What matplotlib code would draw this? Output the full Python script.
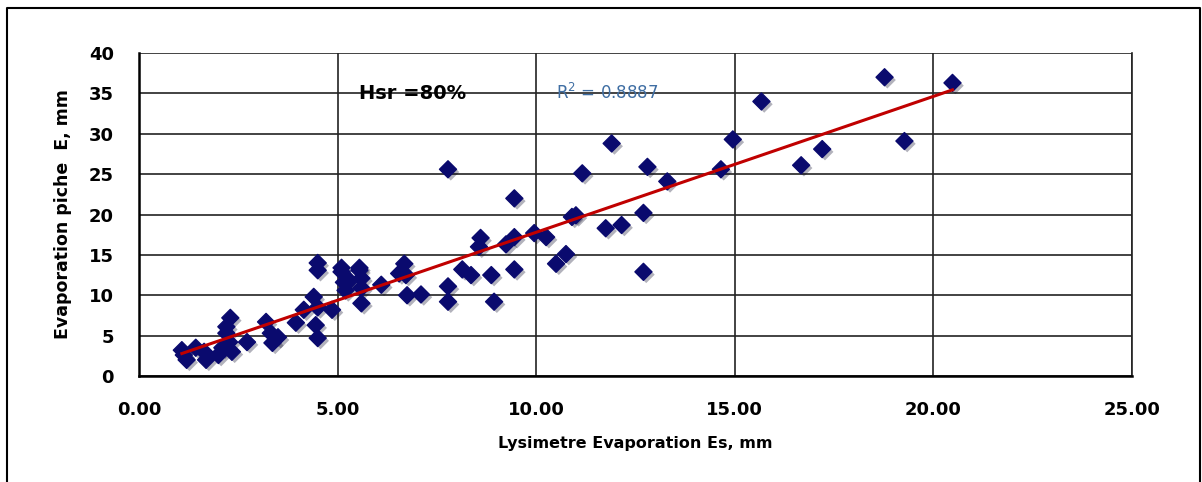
import numpy as np
import matplotlib
matplotlib.use('Agg')
import matplotlib.pyplot as plt
import matplotlib.patheffects as pe
from matplotlib.lines import Line2D

# Lysimeter vs Piche evaporation (Hsr = 80%)
lysimetre_es = [1.13, 1.08, 1.2, 1.43, 1.69, 1.64, 2.0, 2.1, 2.27, 2.2, 2.3, 2.2, 2.34, 2.72,
                3.2, 3.32, 3.36, 3.5, 3.95, 4.15, 4.4, 4.5, 4.45, 4.5, 4.5, 4.5, 4.86,
                5.1, 5.16, 5.2, 5.55, 5.6, 5.6, 5.6, 5.1, 5.55, 5.3, 6.1, 6.55, 6.68, 6.72,
                6.75, 7.1, 7.78, 7.78, 7.78, 8.14, 8.36, 8.56, 8.6, 8.87, 8.94, 9.24, 9.45,
                9.45, 9.45, 9.95, 10.25, 10.5, 10.75, 10.9, 11.0, 11.16, 11.75, 11.9, 12.15,
                12.7, 12.7, 12.8, 13.3, 14.65, 14.95, 15.67, 16.67, 17.2, 18.77, 19.27, 20.48]
piche_e = [2.6, 3.2, 2.0, 3.5, 2.0, 3.0, 2.6, 3.5, 4.2, 5.3, 7.2, 6.1, 3.0, 4.2,
           6.7, 5.3, 4.1, 4.8, 6.6, 8.2, 9.8, 8.5, 6.3, 4.7, 14.0, 13.1, 8.2,
           12.9, 11.6, 10.6, 13.1, 12.1, 9.0, 10.9, 13.4, 13.4, 11.8, 11.3, 12.7, 13.9, 12.5,
           10.0, 10.1, 25.6, 11.1, 9.2, 13.2, 12.5, 16.0, 17.1, 12.5, 9.2, 16.3, 17.2,
           22.0, 13.2, 17.7, 17.2, 13.9, 15.1, 19.7, 19.9, 25.1, 18.3, 28.8, 18.7,
           20.2, 12.9, 25.9, 24.1, 25.6, 29.3, 34.0, 26.1, 28.1, 37.0, 29.1, 36.3]

x = np.array(lysimetre_es)
y = np.array(piche_e)
slope, intercept = np.polyfit(x, y, 1)

fig = plt.figure(figsize=(12.02, 4.82), dpi=100)
ax = fig.add_axes([0.1156, 0.2199, 0.8262, 0.6701])

ax.scatter(x, y, marker='D', s=75, color='#0a0a6e', zorder=3,
           path_effects=[pe.SimplePatchShadow(offset=(2, -2), alpha=0.3), pe.Normal()])
xl = np.array([x.min(), x.max()])
ax.plot(xl, slope * xl + intercept, color='#c00000', lw=2.2, zorder=4)

ax.set_xlim(0, 25)
ax.set_ylim(0, 40)
ax.set_xticks(np.arange(0, 26, 5))
ax.set_xticklabels(['%.2f' % v for v in np.arange(0, 26, 5)])
ax.set_yticks(np.arange(0, 41, 5))
ax.grid(True, color='#222222', lw=1.2)
ax.set_axisbelow(True)
ax.tick_params(length=0, labelsize=13, pad=18)
for lab in ax.get_xticklabels() + ax.get_yticklabels():
    lab.set_fontweight('bold')
ax.spines['top'].set_visible(False)
ax.spines['right'].set_linewidth(1.2)
ax.spines['right'].set_color('#222222')
for s in ['left', 'bottom']:
    ax.spines[s].set_linewidth(1.8)

ax.set_xlabel('Lysimetre Evaporation Es, mm', fontsize=11.5, fontweight='bold', labelpad=12)
ax.set_ylabel('Evaporation piche  E, mm', fontsize=12.5, fontweight='bold', labelpad=12)

ax.text(5.55, 35, 'Hsr =80%', fontsize=14, fontweight='bold', va='center', zorder=5)
ax.text(10.5, 35, 'R$^2$ = 0.8887', fontsize=12, color='#3f6ea3', va='center', zorder=5)

# outer chart frame (bottom edge is cut off in the original)
fig.add_artist(Line2D([0.0058, 0.0058, 0.9983, 0.9983], [0.0, 0.983, 0.983, 0.0],
                      transform=fig.transFigure, color='black', lw=1.5))

fig.savefig('out.png', dpi=100)
